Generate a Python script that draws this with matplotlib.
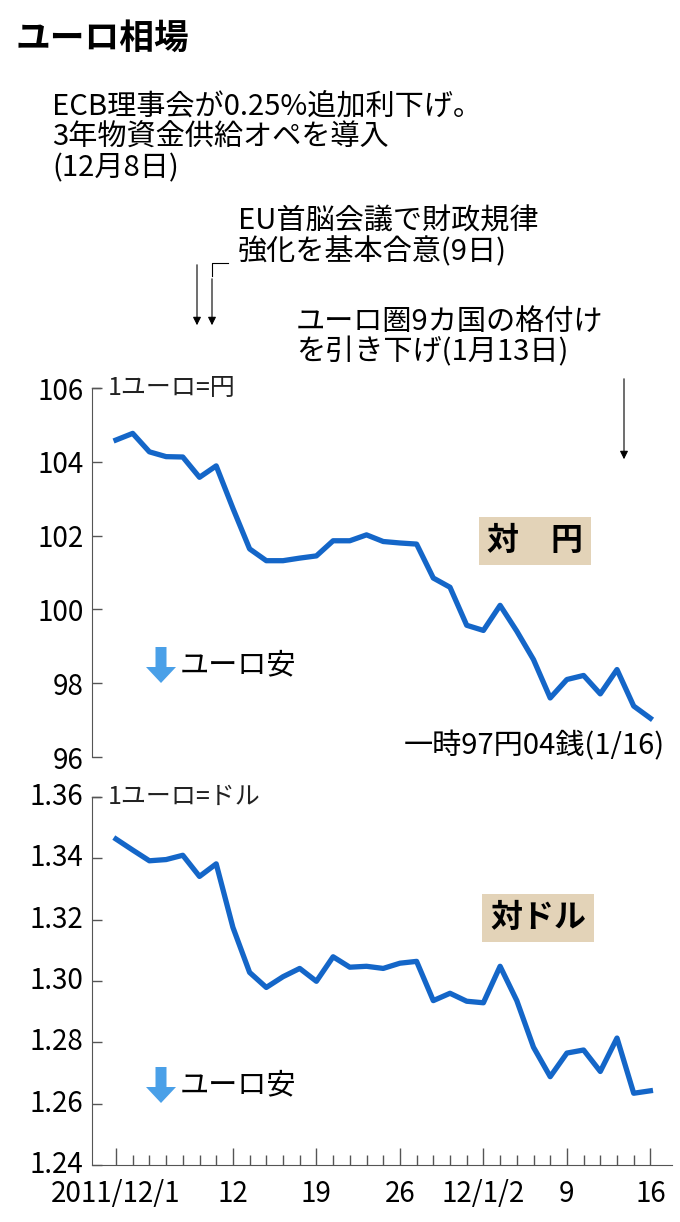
import matplotlib.pyplot as plt
import numpy as np

plt.rcParams['font.family'] = ['Noto Sans CJK JP', 'DejaVu Sans']

# business days 2011/12/1 .. 2012/1/16
days = ['12/1', '12/2', '12/5', '12/6', '12/7', '12/8', '12/9', '12/12', '12/13', '12/14',
        '12/15', '12/16', '12/19', '12/20', '12/21', '12/22', '12/23', '12/26', '12/27',
        '12/28', '12/29', '12/30', '1/2', '1/3', '1/4', '1/5', '1/6', '1/9', '1/10',
        '1/11', '1/12', '1/13', '1/16']
yen = [104.59, 104.77, 104.27, 104.14, 104.13, 103.58, 103.89, 102.74, 101.64, 101.32,
       101.32, 101.39, 101.45, 101.86, 101.86, 102.02, 101.84, 101.80, 101.77, 100.85,
       100.60, 99.57, 99.43, 100.11, 99.41, 98.64, 97.60, 98.10, 98.21, 97.71,
       98.37, 97.38, 97.05]
usd = [1.3463, 1.3427, 1.3392, 1.3396, 1.3410, 1.3341, 1.3382, 1.3175, 1.3028, 1.2979,
       1.3014, 1.3041, 1.2999, 1.3079, 1.3045, 1.3048, 1.3041, 1.3058, 1.3064, 1.2936,
       1.2960, 1.2934, 1.2929, 1.3048, 1.2936, 1.2784, 1.2688, 1.2765, 1.2775, 1.2705,
       1.2814, 1.2634, 1.2642]
major_idx = [0, 7, 12, 17, 22, 27, 32]
major_labels = ['2011/12/1', '12', '19', '26', '12/1/2', '9', '16']

W, H = 680, 1222
fig = plt.figure(figsize=(W / 100, H / 100), dpi=100)
LINE = '#1466c8'

def box(l, t, r, b):
    return [l / W, 1 - b / H, (r - l) / W, (b - t) / H]

x = np.arange(len(days))
x0, step = 116, 16.7
xl = (-(x0 - 92) / step, (672 - x0) / step)

def fx(px):
    return px / W

def fy(py):
    return 1 - py / H

# upper chart: yen
ax1 = fig.add_axes(box(92, 388, 672, 757))
ax1.plot(x, yen, color=LINE, lw=3.8, solid_joinstyle='round')
ax1.set_xlim(*xl)
ax1.set_ylim(96, 106)
ax1.set_yticks(np.arange(96, 107, 2))
ax1.set_xticks([])
for s in ['top', 'right', 'bottom']:
    ax1.spines[s].set_visible(False)

# lower chart: dollar
ax2 = fig.add_axes(box(92, 797, 672, 1165))
ax2.plot(x, usd, color=LINE, lw=3.8, solid_joinstyle='round')
ax2.set_xlim(*xl)
ax2.set_ylim(1.24, 1.36)
ax2.set_yticks(np.arange(1.24, 1.361, 0.02))
ax2.set_yticklabels([f'{v:.2f}' for v in np.arange(1.24, 1.361, 0.02)])
ax2.set_xticks(major_idx)
ax2.set_xticklabels(major_labels)
ax2.set_xticks(x, minor=True)
for s in ['top', 'right']:
    ax2.spines[s].set_visible(False)
ax2.tick_params(axis='x', which='major', direction='in', length=12, width=1,
                labelsize=20, pad=10, color='#555555')
ax2.tick_params(axis='x', which='minor', direction='in', length=7, width=1, color='#555555')
ax2.set_yticklabels(ax2.get_yticklabels(), va='bottom')

for ax in (ax1, ax2):
    ax.spines['left'].set_color('#555555')
    ax.spines['bottom'].set_color('#555555')
    ax.tick_params(axis='y', direction='in', length=7, width=1, labelsize=20,
                   pad=6, color='#555555')
    ax.set_facecolor('none')
for t in ax2.get_yticklabels():
    t.set_va('center')

# title and annotations
fig.text(fx(16), fy(38), 'ユーロ相場', fontsize=25, fontweight='bold', va='center')
fig.text(fx(52), fy(138), 'ECB理事会が0.25%追加利下げ。\n3年物資金供給オペを導入\n(12月8日)',
         fontsize=21, va='center', linespacing=1.0)
fig.text(fx(238), fy(237), 'EU首脳会議で財政規律\n強化を基本合意(9日)',
         fontsize=21, va='center', linespacing=1.0)
fig.text(fx(296), fy(337), 'ユーロ圏9カ国の格付け\nを引き下げ(1月13日)',
         fontsize=21, va='center', linespacing=1.0)

arrow = dict(arrowstyle='-|>', color='black', lw=0.8, mutation_scale=12)
fig.patches.append(plt.matplotlib.patches.FancyArrowPatch(
    (fx(197), fy(262)), (fx(197), fy(328)), transform=fig.transFigure, **arrow))
fig.patches.append(plt.matplotlib.patches.FancyArrowPatch(
    (fx(212), fy(276)), (fx(212), fy(328)), transform=fig.transFigure, **arrow))
fig.lines.append(plt.Line2D([fx(212), fx(212), fx(228)], [fy(276), fy(263), fy(263)],
                            transform=fig.transFigure, color='black', lw=0.8))
fig.patches.append(plt.matplotlib.patches.FancyArrowPatch(
    (fx(624), fy(376)), (fx(624), fy(462)), transform=fig.transFigure, **arrow))

# unit labels with hook
for ytop, lab in [(388, '1ユーロ=円'), (797, '1ユーロ=ドル')]:
    fig.lines.append(plt.Line2D([fx(92), fx(100)], [fy(ytop), fy(ytop)],
                                transform=fig.transFigure, color='#555555', lw=1))
    fig.text(fx(108), fy(ytop), lab, fontsize=18, va='center', color='#222222')

# category boxes
for cx, cy, lab in [(535, 541, '対　円'), (538, 918, '対ドル')]:
    fig.text(fx(cx), fy(cy), lab, fontsize=23, fontweight='bold', ha='center', va='center',
             bbox=dict(boxstyle='square,pad=0.25', fc='#e3d3b8', ec='none'))

# euro weakening markers
for cy in [665, 1085]:
    fig.patches.append(plt.matplotlib.patches.FancyArrow(
        fx(161), fy(cy - 18), 0, -36 / H, width=11 / W, head_width=30 / W, head_length=16 / H,
        length_includes_head=True, transform=fig.transFigure, color='#4aa0e8', ec='none'))
    fig.text(fx(180), fy(cy), 'ユーロ安', fontsize=21, va='center')

fig.text(fx(665), fy(746), '一時97円04銭(1/16)', fontsize=21, ha='right', va='center')

fig.savefig('out.png', dpi=100, facecolor='white')
